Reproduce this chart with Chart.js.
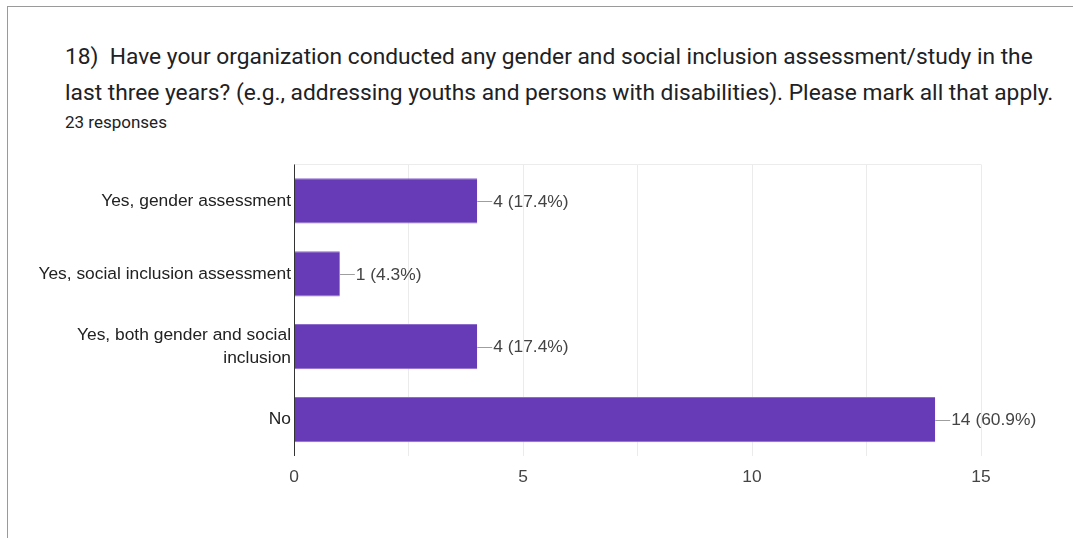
<!DOCTYPE html>
<html>
<head>
<meta charset="utf-8">
<script src="https://cdn.jsdelivr.net/npm/chart.js@4"></script>
<style>
  html, body { margin: 0; padding: 0; background: #fff; }
  body { width: 1073px; height: 538px; position: relative; overflow: hidden; }
  .card { position: absolute; left: 7px; top: 6px; width: 1200px; height: 700px;
          border-left: 1px solid #9a9a9a; border-top: 1px solid #9a9a9a; }
  .title { position: absolute; left: 65px; top: 39px; width: 1010px; white-space: nowrap;
           font-family: Roboto, sans-serif; font-size: 22.75px; line-height: 36px; color: #202124; }
  .sub { position: absolute; left: 65px; top: 112px;
         font-family: Roboto, sans-serif; font-size: 17px; color: #202124; }
  .wrap { position: absolute; left: 0; top: 150px; width: 1073px; height: 388px; }
</style>
</head>
<body>
<div class="card"></div>
<div class="title">18)&nbsp; Have your organization conducted any gender and social inclusion assessment/study in the<br>last three years? (e.g., addressing youths and persons with disabilities). Please mark all that apply.</div>
<div class="sub">23 responses</div>
<div class="wrap"><canvas id="c"></canvas></div>
<script>
  var CATEGORIES = [
    "Yes, gender assessment",
    "Yes, social inclusion assessment",
    ["Yes, both gender and social", "inclusion"],
    "No"
  ];
  var COUNTS = [4, 1, 4, 14];
  var PERCENTS = ["17.4%", "4.3%", "17.4%", "60.9%"];
  var X_TICKS = [0, 5, 10, 15];

  var FONT = "'Liberation Sans', Arial, sans-serif";

  var barLabels = {
    id: "barLabels",
    afterDatasetsDraw: function (chart) {
      var ctx = chart.ctx;
      var meta = chart.getDatasetMeta(0);
      ctx.save();
      ctx.font = "17.4px " + FONT;
      ctx.textBaseline = "middle";
      ctx.textAlign = "left";
      meta.data.forEach(function (bar, i) {
        ctx.strokeStyle = "#9e9e9e";
        ctx.lineWidth = 1;
        ctx.beginPath();
        ctx.moveTo(bar.x, Math.round(bar.y) + 0.5);
        ctx.lineTo(bar.x + 15, Math.round(bar.y) + 0.5);
        ctx.stroke();
        ctx.fillStyle = "#444";
        ctx.fillText(COUNTS[i] + " (" + PERCENTS[i] + ")", bar.x + 16, bar.y + 1);
      });
      ctx.restore();
    }
  };

  var frame = {
    id: "frame",
    beforeDatasetsDraw: function (chart) {
      var a = chart.chartArea, ctx = chart.ctx;
      ctx.save();
      ctx.strokeStyle = "#ececec";
      ctx.lineWidth = 1;
      ctx.beginPath();
      ctx.moveTo(a.left, Math.round(a.top) + 0.5);
      ctx.lineTo(a.right, Math.round(a.top) + 0.5);
      ctx.stroke();
      ctx.restore();
    },
    afterDatasetsDraw: function (chart) {
      var a = chart.chartArea, ctx = chart.ctx;
      ctx.save();
      ctx.strokeStyle = "#333";
      ctx.lineWidth = 1;
      ctx.beginPath();
      ctx.moveTo(Math.round(a.left) + 0.5, a.top);
      ctx.lineTo(Math.round(a.left) + 0.5, a.bottom);
      ctx.stroke();
      ctx.restore();
    }
  };

  new Chart(document.getElementById("c"), {
    type: "bar",
    data: {
      labels: CATEGORIES,
      datasets: [{
        data: COUNTS,
        backgroundColor: "#673ab7",
        borderColor: "#8e6ccd",
        borderWidth: { top: 1, bottom: 1, left: 0, right: 0 },
        borderSkipped: false,
        categoryPercentage: 0.62,
        barPercentage: 1
      }]
    },
    options: {
      indexAxis: "y",
      responsive: true,
      maintainAspectRatio: false,
      animation: false,
      layout: { padding: { left: 0, top: 13, right: 92, bottom: 52 } },
      plugins: { legend: { display: false }, tooltip: { enabled: false } },
      scales: {
        x: {
          min: 0, max: 15,
          afterBuildTicks: function (s) {
            s.ticks = [0, 2.5, 5, 7.5, 10, 12.5, 15].map(function (v) { return { value: v }; });
          },
          afterFit: function (s) { s.height = 30; },
          grid: { color: "#ebebeb", drawTicks: false },
          border: { display: false },
          ticks: {
            padding: 11,
            color: "#444",
            font: { family: FONT, size: 17.4 },
            callback: function (v) { return X_TICKS.indexOf(v) >= 0 ? v : ""; }
          }
        },
        y: {
          afterFit: function (s) { s.width = 294; },
          grid: { display: false, drawTicks: false },
          border: { display: false },
          ticks: {
            padding: 3,
            color: "#222",
            font: { family: FONT, size: 17.4, lineHeight: 1.32 }
          }
        }
      }
    },
    plugins: [frame, barLabels]
  });
</script>
</body>
</html>
